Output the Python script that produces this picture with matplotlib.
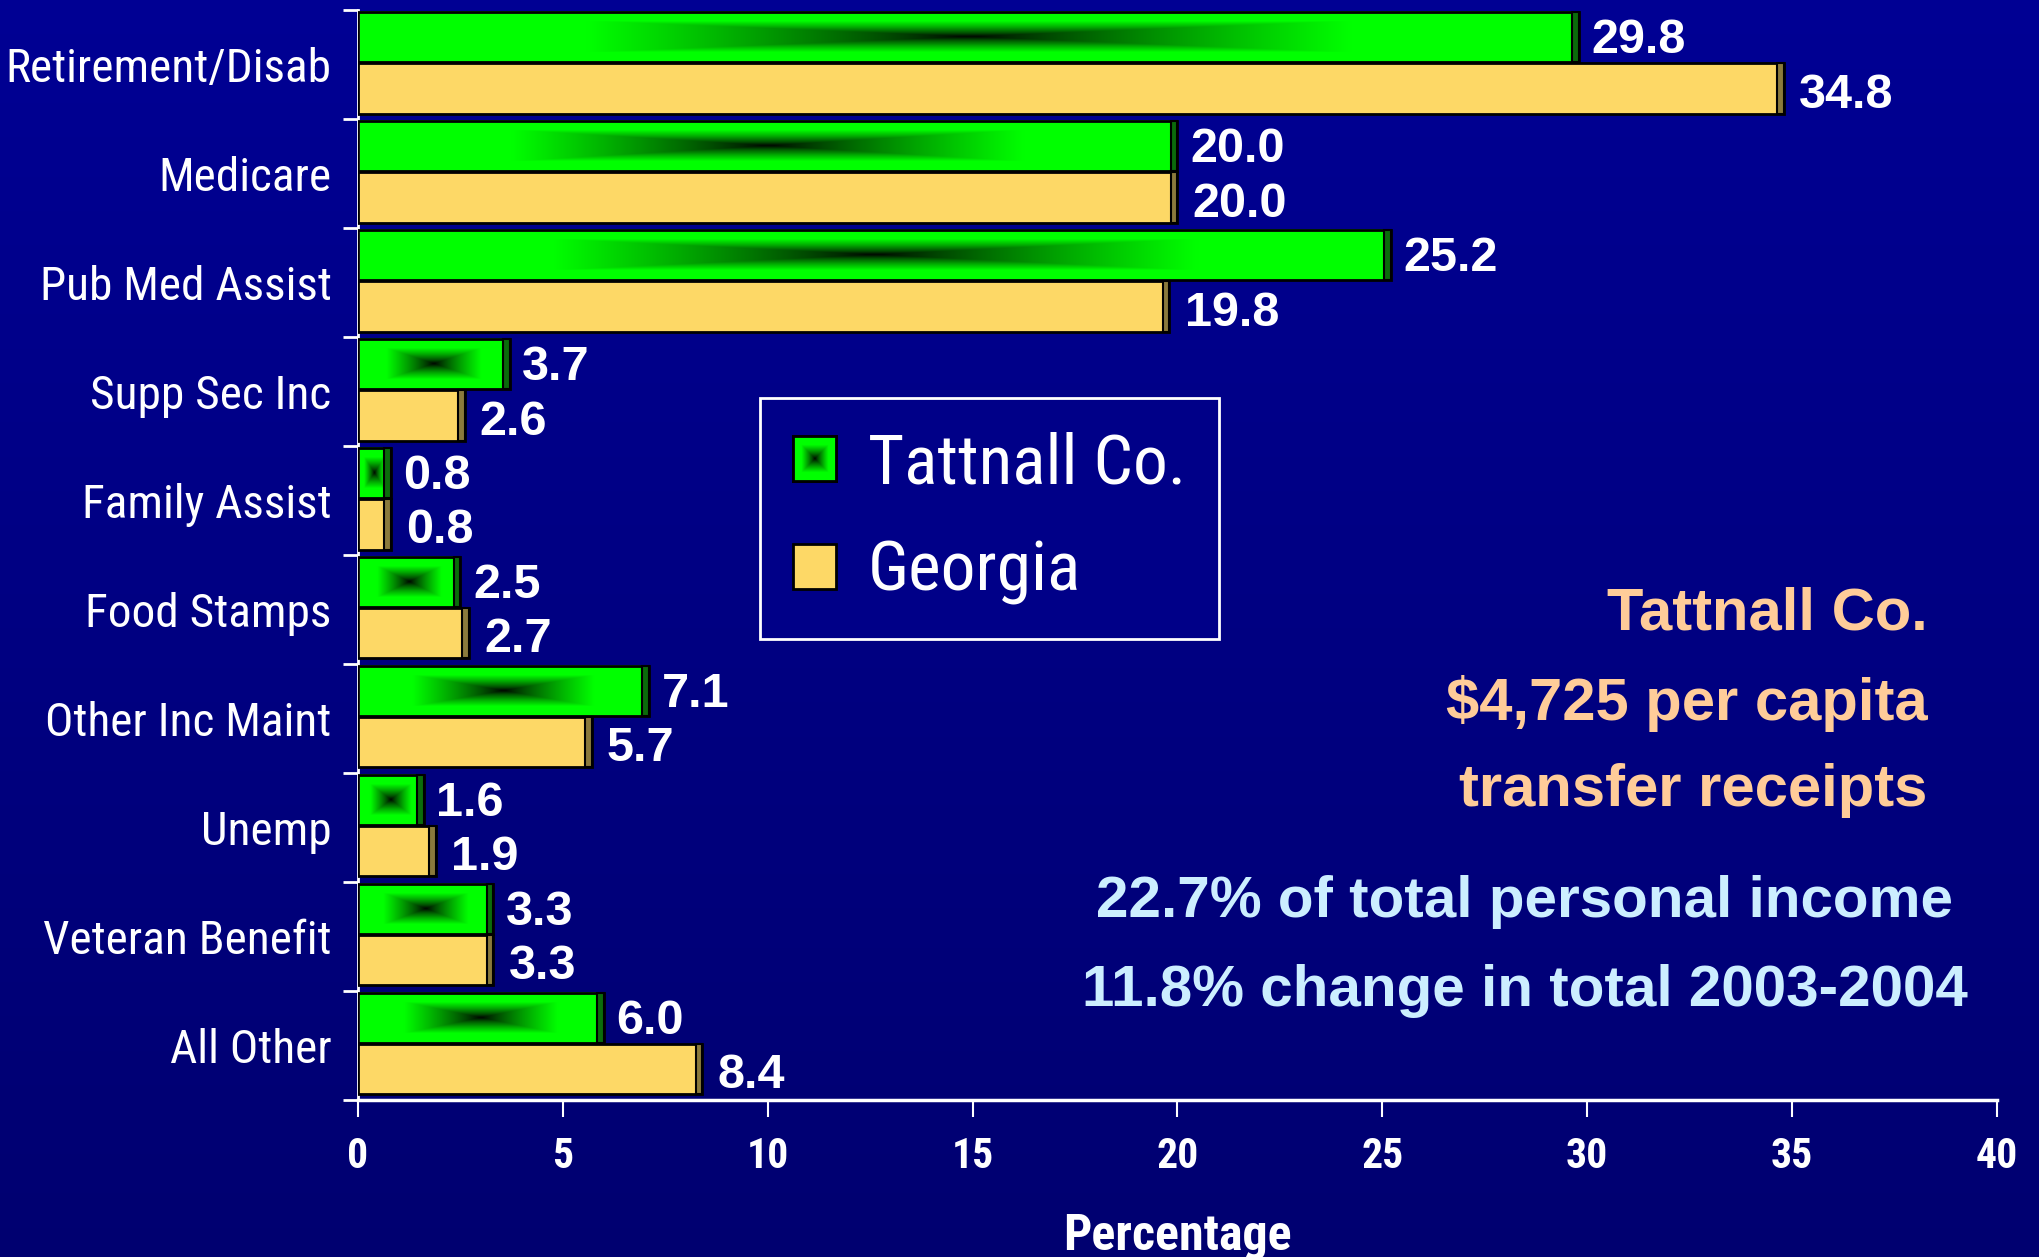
import numpy as np
import matplotlib
matplotlib.use("Agg")
import matplotlib.pyplot as plt
from matplotlib import font_manager
from matplotlib.patches import Patch

categories = ["Retirement/Disab", "Medicare", "Pub Med Assist", "Supp Sec Inc",
              "Family Assist", "Food Stamps", "Other Inc Maint", "Unemp",
              "Veteran Benefit", "All Other"]
tattnall = [29.8, 20.0, 25.2, 3.7, 0.8, 2.5, 7.1, 1.6, 3.3, 6.0]
georgia = [34.8, 20.0, 19.8, 2.6, 0.8, 2.7, 5.7, 1.9, 3.3, 8.4]
x_ticks = [0, 5, 10, 15, 20, 25, 30, 35, 40]
series_names = ["Tattnall Co.", "Georgia"]
note_peach = ["Tattnall Co.", "$4,725 per capita", "transfer receipts"]
note_blue = ["22.7% of total personal income", "11.8% change in total 2003-2004"]

YELLOW = "#fdd866"
GREEN_EDGE = "#0b6b0b"
YELLOW_EDGE = "#8a7a3c"
PEACH = "#ffcc99"
ICE = "#cceeff"


def pick(*names):
    have = {f.name for f in font_manager.fontManager.ttflist}
    for n in names:
        if n in have:
            return n
    return "DejaVu Sans"


NARROW = pick("Liberation Sans Narrow", "Roboto Condensed", "Liberation Sans")
SANS = pick("Liberation Sans", "Arial", "DejaVu Sans")


def green_fill(nx=400, ny=60):
    # rectangular "from centre" gradient: black in the middle, bright green at the edges
    u = np.abs(np.linspace(-1, 1, nx))[None, :]
    v = np.abs(np.linspace(-1, 1, ny))[:, None]
    t = np.clip(np.maximum(u, v) * 1.6, 0, 1) ** 0.8
    img = np.zeros((ny, nx, 3))
    img[..., 1] = t
    return img


def main():
    fig = plt.figure(figsize=(20.4, 12.57), dpi=100)

    # background: vertical navy gradient
    bg = fig.add_axes([0, 0, 1, 1], zorder=-10)
    shade = np.linspace(0.58, 0.44, 256)[:, None]
    bg_img = np.dstack([np.zeros_like(shade), np.zeros_like(shade), shade])
    bg.imshow(bg_img, aspect="auto", extent=(0, 1, 0, 1))
    bg.axis("off")

    ax = fig.add_axes([0.1755, 0.125, 0.8034, 0.867])
    ax.patch.set_alpha(0)

    n = len(categories)
    y = np.arange(n)
    h = 0.46

    g_bars = ax.barh(y - 0.25, tattnall, height=h, facecolor="none",
                     edgecolor="black", linewidth=2, zorder=4)
    ax.barh(y + 0.22, georgia, height=h, facecolor=YELLOW,
            edgecolor="black", linewidth=2, zorder=3)

    # gradient fill of the green bars
    fill = green_fill()
    for r in g_bars:
        x0, y0 = r.get_x(), r.get_y()
        ax.imshow(fill, extent=(x0, x0 + r.get_width(), y0, y0 + r.get_height()),
                  aspect="auto", interpolation="bilinear", zorder=2)

    # thin shaded end face on each bar
    depth = 0.16
    ax.barh(y - 0.25, [depth] * n, left=np.array(tattnall) - depth, height=h,
            facecolor=GREEN_EDGE, edgecolor="black", linewidth=1.5, zorder=5)
    ax.barh(y + 0.22, [depth] * n, left=np.array(georgia) - depth, height=h,
            facecolor=YELLOW_EDGE, edgecolor="black", linewidth=1.5, zorder=5)

    for yy, v in zip(y, tattnall):
        ax.annotate(f"{v:.1f}", (v, yy - 0.22), xytext=(9, 0), textcoords="offset points",
                    va="center", ha="left", color="white", fontsize=35,
                    fontweight="bold", family=SANS, zorder=6)
    for yy, v in zip(y, georgia):
        ax.annotate(f"{v:.1f}", (v, yy + 0.28), xytext=(11, 0), textcoords="offset points",
                    va="center", ha="left", color="white", fontsize=35,
                    fontweight="bold", family=SANS, zorder=6)

    ax.set_xlim(0, 40)
    ax.set_ylim(n - 0.5, -0.5)

    ax.set_yticks(y)
    ax.set_yticklabels(categories, family=NARROW, fontsize=34, color="white")
    ax.set_yticks(np.arange(-0.5, n), minor=True)
    ax.tick_params(axis="y", which="major", length=0, pad=19)
    ax.tick_params(axis="y", which="minor", length=11, width=2, color="white")

    ax.set_xticks(x_ticks)
    ax.set_xticklabels([str(t) for t in x_ticks], family=NARROW, fontsize=30,
                       fontweight="bold", color="white")
    ax.tick_params(axis="x", length=12, width=1.5, color="white", pad=14)
    ax.set_xlabel("Percentage", family=NARROW, fontsize=36, fontweight="bold",
                  color="white", labelpad=26)

    for s in ("top", "right"):
        ax.spines[s].set_visible(False)
    ax.spines["left"].set_color("white")
    ax.spines["left"].set_linewidth(2)
    ax.spines["bottom"].set_color("white")
    ax.spines["bottom"].set_linewidth(2.5)

    handles = [Patch(facecolor="#00ff00", edgecolor="black", linewidth=2),
               Patch(facecolor=YELLOW, edgecolor="black", linewidth=2)]
    leg = fig.legend(handles, series_names, loc="upper left",
                     bbox_to_anchor=(0.3725, 0.6834), bbox_transform=fig.transFigure,
                     borderaxespad=0, frameon=True, fancybox=False, framealpha=1,
                     facecolor="#000088", edgecolor="white",
                     prop={"family": NARROW, "size": 50},
                     handlelength=0.62, handleheight=0.62, handletextpad=0.45,
                     labelspacing=0.6, borderpad=0.48)
    leg.get_frame().set_linewidth(2)
    for t in leg.get_texts():
        t.set_color("white")

    for txt, yy in zip(note_peach, [0.5115, 0.4407, 0.3715]):
        fig.text(0.945, yy, txt, ha="right", va="center", color=PEACH,
                 fontsize=43, fontweight="bold", family=SANS)
    for txt, yy in zip(note_blue, [0.2824, 0.2116]):
        fig.text(0.7475, yy, txt, ha="center", va="center", color=ICE,
                 fontsize=42, fontweight="bold", family=SANS)

    # put the gradient into the green legend key
    fig.canvas.draw()
    key = leg.get_patches()[0].get_window_extent().transformed(fig.transFigure.inverted())
    kax = fig.add_axes([key.x0, key.y0, key.width, key.height], zorder=10)
    kax.imshow(green_fill(60, 60), aspect="auto", interpolation="bilinear")
    kax.set_xticks([])
    kax.set_yticks([])
    for s in kax.spines.values():
        s.set_color("black")
        s.set_linewidth(2)

    fig.savefig("out.png", dpi=100)


if __name__ == "__main__":
    main()
